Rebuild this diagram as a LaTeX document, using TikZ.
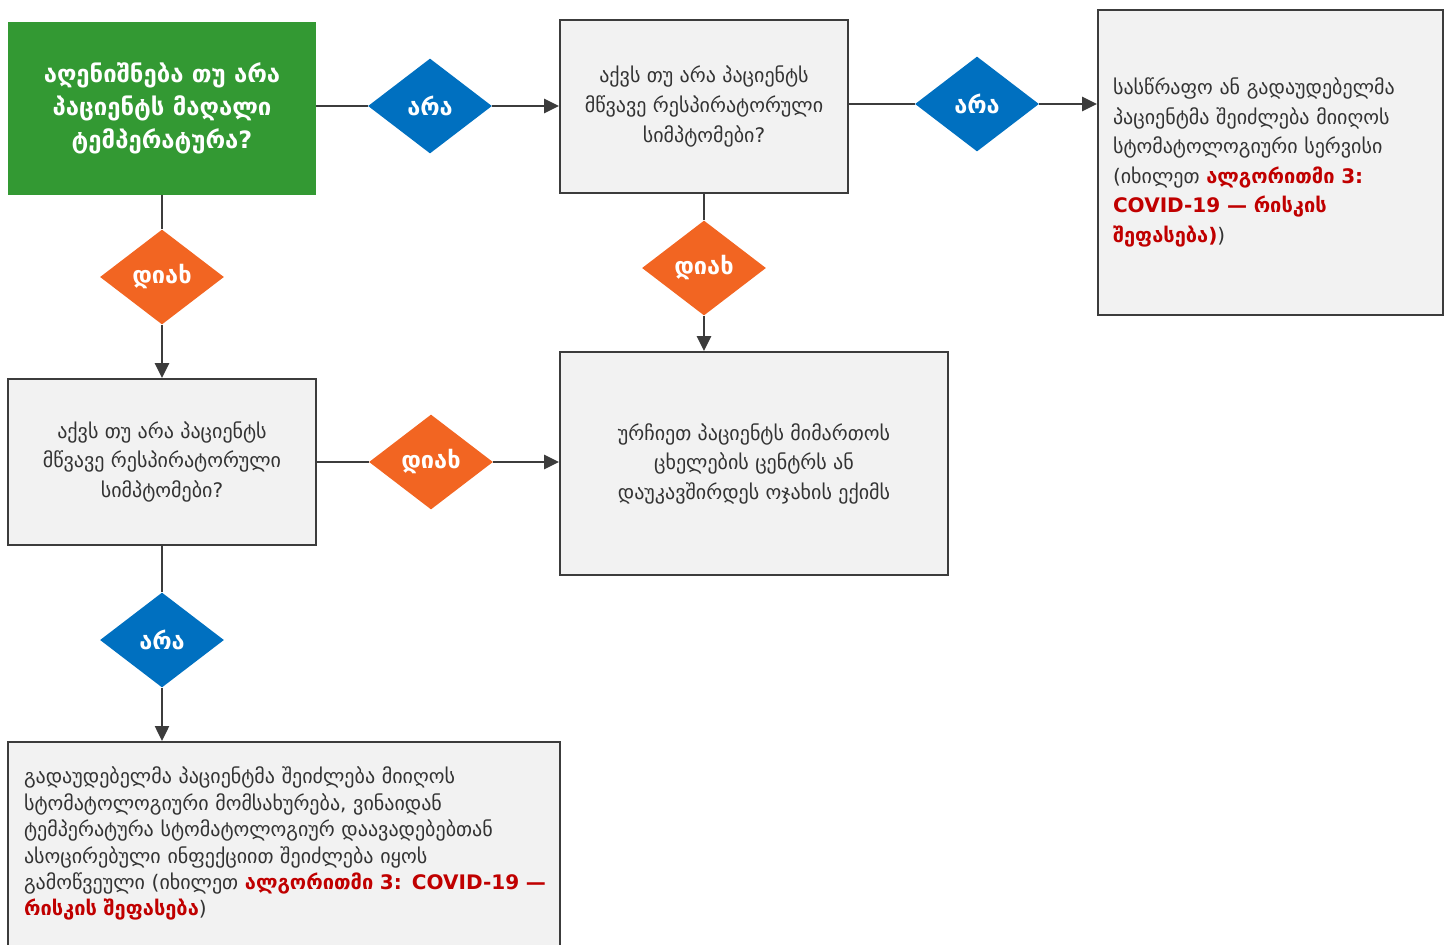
\documentclass[tikz,border=0pt]{standalone}
\usepackage{fontspec}
\setmainfont{DejaVu Sans}
\usetikzlibrary{shapes.geometric, arrows.meta, positioning}
\definecolor{flowgreen}{HTML}{339933}
\definecolor{flowblue}{HTML}{0070C0}
\definecolor{floworange}{HTML}{F26522}
\definecolor{boxgrey}{HTML}{F2F2F2}
\definecolor{linegrey}{HTML}{3C3C3C}
\definecolor{linkred}{HTML}{C00000}
\newcommand{\algref}[1]{\textcolor{linkred}{\bfseries #1}}

\tikzset{
    qbox/.style = {draw = linegrey, line width = 1.1pt, fill = boxgrey, inner sep = 0pt,
                   align = center, text = black!80, font = \fontsize{11.4}{16.8}\selectfont},
    startbox/.style = {fill = flowgreen, inner sep = 0pt, align = center, text = white,
                       font = \bfseries\fontsize{13.6}{18.8}\selectfont},
    decision/.style = {diamond, minimum width = 2.48cm, minimum height = 1.9cm, inner sep = 0pt,
                       text = white, font = \bfseries\fontsize{13.4}{15}\selectfont},
    nodiamond/.style = {decision, fill = flowblue},
    yesdiamond/.style = {decision, fill = floworange},
    conn/.style = {draw = linegrey, line width = 1.4pt},
    arr/.style = {conn, -{Triangle[length = 0.3cm, width = 0.28cm]}}
}

\begin{document}
\begin{tikzpicture}[x = 0.02cm, y = -0.02cm]
                \useasboundingbox (0, 0) rectangle (1450, 944);

                % questions
                \node (Q1) [startbox, minimum width = 6.16cm, minimum height = 3.46cm] at (162, 108.5)
                    { აღენიშნება თუ არა\\პაციენტს მაღალი\\ტემპერატურა? };
                \node (Q2) [qbox, minimum width = 5.76cm, minimum height = 3.46cm] at (704, 106.5)
                    { აქვს თუ არა პაციენტს\\მწვავე რესპირატორული\\სიმპტომები? };
                \node (Q3) [qbox, minimum width = 6.16cm, minimum height = 3.32cm] at (162, 462)
                    { აქვს თუ არა პაციენტს\\მწვავე რესპირატორული\\სიმპტომები? };

                % outcomes
                \node (R1) [qbox, align = left, text width = 6.3cm, inner xsep = 0.3cm,
                            minimum width = 6.9cm, minimum height = 6.1cm] at (1270.5, 162.5)
                    { სასწრაფო ან გადაუდებელმა\\პაციენტმა შეიძლება მიიღოს\\სტომატოლოგიური სერვისი\\(იხილეთ \algref{ალგორითმი 3:}\\\algref{COVID-19 — რისკის}\\\algref{შეფასება)}) };
                \node (R2) [qbox, minimum width = 7.76cm, minimum height = 4.46cm] at (754, 463.5)
                    { ურჩიეთ პაციენტს მიმართოს\\ცხელების ცენტრს ან\\დაუკავშირდეს ოჯახის ექიმს };
                \node (R3) [qbox, anchor = north, align = left, text width = 10.4cm, inner xsep = 0.32cm,
                            text height = 0.84cm, text depth = 4.5cm,
                            font = \fontsize{11.4}{15}\selectfont] at (284, 741)
                    { გადაუდებელმა პაციენტმა შეიძლება მიიღოს\\სტომატოლოგიური მომსახურება, ვინაიდან\\ტემპერატურა სტომატოლოგიურ დაავადებებთან\\ასოცირებული ინფექციით შეიძლება იყოს\\\mbox{გამოწვეული (იხილეთ \algref{ალგორითმი 3: COVID-19 —}}\\\algref{რისკის შეფასება}) };

                % answers
                \node (N1) [nodiamond] at (430, 106) { არა };
                \node (N2) [nodiamond] at (977, 104) { არა };
                \node (N3) [nodiamond] at (162, 640) { არა };
                \node (Y1) [yesdiamond] at (162, 277) { დიახ };
                \node (Y2) [yesdiamond] at (431, 462) { დიახ };
                \node (Y3) [yesdiamond] at (704, 268) { დიახ };

                % connectors
                \draw [conn] (N1 -| Q1.east) -- (N1);
                \draw [arr] (N1) -- (N1 -| Q2.west);
                \draw [conn] (N2 -| Q2.east) -- (N2);
                \draw [arr] (N2) -- (N2 -| R1.west);
                \draw [conn] (Q1) -- (Y1);
                \draw [arr] (Y1) -- (Q3);
                \draw [conn] (Q3) -- (N3);
                \draw [arr] (N3) -- (N3 |- R3.north);
                \draw [conn] (Q3) -- (Y2);
                \draw [arr] (Y2) -- (Y2 -| R2.west);
                \draw [conn] (Q2) -- (Y3);
                \draw [arr] (Y3) -- (Y3 |- R2.north);
            \end{tikzpicture}
\end{document}
